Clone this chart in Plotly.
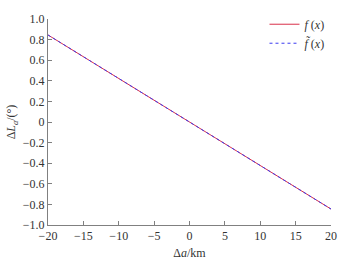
import plotly.graph_objects as go

delta_a = [-20, -15, -10, -5, 0, 5, 10, 15, 20]
f_vals = [0.845, 0.634, 0.422, 0.211, 0.0, -0.211, -0.422, -0.634, -0.845]
f_tilde_vals = [0.845, 0.634, 0.422, 0.211, 0.0, -0.211, -0.422, -0.634, -0.845]
x_ticks = [-20, -15, -10, -5, 0, 5, 10, 15, 20]
y_ticks = [1.0, 0.8, 0.6, 0.4, 0.2, 0, -0.2, -0.4, -0.6, -0.8, -1.0]
y_tick_text = ["1.0", "0.8", "0.6", "0.4", "0.2", "0", "\u22120.2", "\u22120.4", "\u22120.6", "\u22120.8", "\u22121.0"]
x_tick_text = ["\u221220", "\u221215", "\u221210", "\u22125", "0", "5", "10", "15", "20"]

font = "Liberation Serif, Times New Roman, serif"

fig = go.Figure()
fig.add_trace(go.Scatter(x=delta_a, y=f_vals, mode="lines", name="<i>f</i> (<i>x</i>)",
                         line=dict(color="#d9304a", width=1)))
fig.add_trace(go.Scatter(x=delta_a, y=f_tilde_vals, mode="lines", name="<i>f\u0303</i> (<i>x</i>)",
                         line=dict(color="#3a3af0", width=1, dash="dot")))

axis_common = dict(showline=True, linecolor="#808080", linewidth=1, ticks="inside", ticklen=4,
                   tickcolor="#808080", showgrid=False, zeroline=False, mirror=False,
                   tickfont=dict(family=font, size=12, color="#333333"))

fig.update_layout(
    width=347, height=268,
    margin=dict(l=45, r=14, t=10, b=33),
    paper_bgcolor="white", plot_bgcolor="white",
    font=dict(family=font, size=12, color="#333333"),
    showlegend=True,
    legend=dict(x=0.765, y=1.045, xanchor="left", yanchor="top", bgcolor="rgba(0,0,0,0)",
                font=dict(family=font, size=12, color="#333333"), itemwidth=30,
                tracegroupgap=0),
    xaxis=dict(range=[-20, 20], tickvals=x_ticks, ticktext=x_tick_text,
               title=dict(text="\u0394<i>a</i>/km", font=dict(family=font, size=12, color="#333333"), standoff=6),
               **axis_common),
    yaxis=dict(range=[-1.0, 1.0], tickvals=y_ticks, ticktext=y_tick_text,
               title=dict(text="\u0394<i>L</i><sub><i>a</i></sub>/(\u00b0)", font=dict(family=font, size=12, color="#333333"), standoff=4),
               **axis_common),
)

fig.write_html("out.html", config={"displayModeBar": False},
               post_script="document.body.style.margin='0';document.body.style.overflow='hidden';")
